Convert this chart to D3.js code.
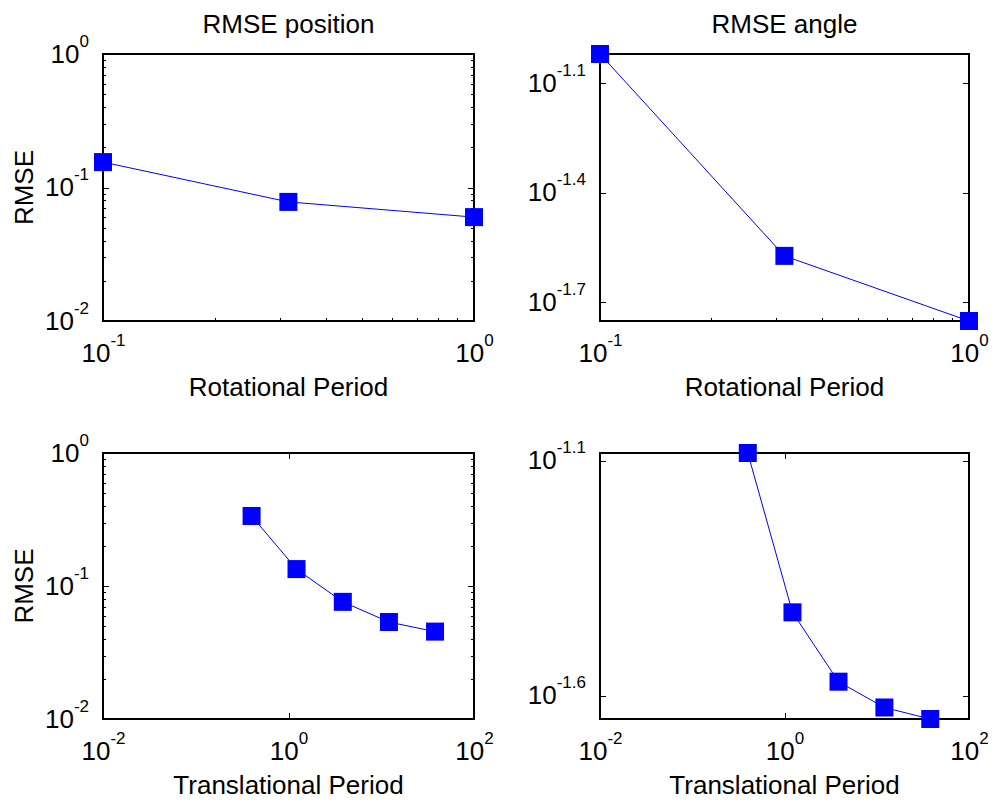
<!DOCTYPE html>
<html>
<head>
<meta charset="utf-8">
<script src="https://cdnjs.cloudflare.com/ajax/libs/d3/7.8.5/d3.min.js"></script>
<style>
  body { margin: 0; background: #fff; }
  text { font-family: "Liberation Sans", Arial, sans-serif; fill: #000; }
</style>
</head>
<body>
<div id="chart"></div>
<script>
(function () {

  // data
  var rotPeriod = [0.1, 0.316, 1]
  var rotPosRmse = [0.155, 0.078, 0.060]
  var rotAngRmse = [0.0955, 0.0267, 0.0177]

  var transPeriod = [0.4, 1.22, 3.85, 12.1, 38]
  var transPosRmse = [0.336, 0.134, 0.076, 0.0536, 0.0454]
  var transAngRmse = [0.0826, 0.0378, 0.0269, 0.0237, 0.0224]

  // tick exponents
  var rotXTicks = [-1, 0]
  var transXTicks = [-2, 0, 2]
  var posYTicks = [-2, -1, 0]
  var rotAngYTicks = [-1.7, -1.4, -1.1]
  var transAngYTicks = [-1.6, -1.1]

  var width = 992, height = 800

  var svg = d3.select("#chart").append("svg")
    .attr("width", width)
    .attr("height", height)

  var panels = [
    { left: 103, top: 54, w: 371, h: 267, x: rotPeriod, y: rotPosRmse,
      xDomain: [0.1, 1], yDomain: [0.01, 1], xTicks: rotXTicks, yTicks: posYTicks,
      xMinor: true, yMinor: true, title: "RMSE position", xLabel: "Rotational Period", yLabel: "RMSE" },
    { left: 600, top: 54, w: 369, h: 267, x: rotPeriod, y: rotAngRmse,
      xDomain: [0.1, 1], yDomain: null, xTicks: rotXTicks, yTicks: rotAngYTicks,
      xMinor: true, yMinor: false, title: "RMSE angle", xLabel: "Rotational Period", yLabel: null },
    { left: 103, top: 453, w: 371, h: 266, x: transPeriod, y: transPosRmse,
      xDomain: [0.01, 100], yDomain: [0.01, 1], xTicks: transXTicks, yTicks: posYTicks,
      xMinor: false, yMinor: true, title: null, xLabel: "Translational Period", yLabel: "RMSE" },
    { left: 600, top: 453, w: 369, h: 266, x: transPeriod, y: transAngRmse,
      xDomain: [0.01, 100], yDomain: null, xTicks: transXTicks, yTicks: transAngYTicks,
      xMinor: false, yMinor: false, title: null, xLabel: "Translational Period", yLabel: null }
  ]

  function minorTicks(domain) {
    var out = []
    var lo = Math.floor(Math.log10(domain[0])), hi = Math.ceil(Math.log10(domain[1]))
    for (var e = lo; e < hi; e++) {
      for (var k = 2; k <= 9; k++) {
        var v = k * Math.pow(10, e)
        if (v > domain[0] && v < domain[1]) out.push(v)
      }
    }
    return out
  }

  // "10" with a raised exponent
  function powLabel(sel, expOf) {
    sel.each(function (d) {
      var t = d3.select(this).text("10")
      t.append("tspan")
        .attr("dy", -16)
        .style("font-size", "17px")
        .text(expOf(d))
    })
  }

  function expText(d) {
    var e = Math.round(Math.log10(d) * 10) / 10
    return String(e)
  }

  panels.forEach(function (p) {
    var g = svg.append("g")
      .attr("transform", "translate(" + p.left + "," + p.top + ")")

    var xScale = d3.scaleLog().domain(p.xDomain).range([0, p.w])
    var yDomain = p.yDomain || d3.extent(p.y)
    var yScale = d3.scaleLog().domain(yDomain).range([p.h, 0])

    var xMajor = p.xTicks.map(function (e) { return Math.pow(10, e) })
    var yMajor = p.yTicks.map(function (e) { return Math.pow(10, e) })
    var xMin = p.xMinor ? minorTicks(p.xDomain) : []
    var yMin = p.yMinor ? minorTicks(yDomain) : []

    function axes(major, minor, axisFn, scale, tx, ty, labels) {
      var a = g.append("g")
        .attr("class", "axis")
        .attr("transform", "translate(" + tx + "," + ty + ")")
        .call(axisFn(scale).tickValues(major).tickSizeInner(-6).tickSizeOuter(0)
          .tickPadding(14).tickFormat(labels ? null : function () { return "" }))
      var m = g.append("g")
        .attr("transform", "translate(" + tx + "," + ty + ")")
        .call(axisFn(scale).tickValues(minor).tickSizeInner(-3).tickSizeOuter(0)
          .tickFormat(function () { return "" }))
      a.select(".domain").remove()
      m.select(".domain").remove()
      a.style("font-size", "26px").style("font-family", null)
      a.selectAll("line").attr("stroke", "#000").attr("shape-rendering", "crispEdges")
      m.selectAll("line").attr("stroke", "#000").attr("shape-rendering", "crispEdges")
      return a
    }

    var bottom = axes(xMajor, xMin, d3.axisBottom, xScale, 0, p.h, true)
    axes(xMajor, [], d3.axisTop, xScale, 0, 0, false)
    var left = axes(yMajor, yMin, d3.axisLeft, yScale, 0, 0, true)
    axes(yMajor, yMin, d3.axisRight, yScale, p.w, 0, false)

    bottom.selectAll(".tick text")
      .attr("y", 41)
      .attr("dy", null)
      .call(powLabel, expText)

    left.selectAll(".tick text")
      .attr("x", -14)
      .attr("dy", null)
      .attr("y", 8)
      .call(powLabel, expText)

    // box
    g.append("rect")
      .attr("width", p.w)
      .attr("height", p.h)
      .attr("fill", "none")
      .attr("stroke", "#000")
      .attr("stroke-width", 1.5)
      .attr("shape-rendering", "crispEdges")

    var pts = p.x.map(function (v, i) { return [v, p.y[i]] })

    var line = d3.line()
      .x(function (d) { return xScale(d[0]) })
      .y(function (d) { return yScale(d[1]) })

    g.append("path")
      .datum(pts)
      .attr("d", line)
      .attr("fill", "none")
      .attr("stroke", "#0000ff")
      .attr("stroke-width", 1)

    g.selectAll(".marker")
      .data(pts)
      .enter().append("rect")
      .attr("class", "marker")
      .attr("x", function (d) { return xScale(d[0]) - 9 })
      .attr("y", function (d) { return yScale(d[1]) - 9 })
      .attr("width", 18)
      .attr("height", 18)
      .attr("fill", "#0000ff")

    if (p.title) {
      g.append("text")
        .attr("x", p.w / 2)
        .attr("y", -21)
        .attr("text-anchor", "middle")
        .style("font-size", "26px")
        .text(p.title)
    }

    g.append("text")
      .attr("x", p.w / 2)
      .attr("y", p.h + 75)
      .attr("text-anchor", "middle")
      .style("font-size", "26px")
      .text(p.xLabel)

    if (p.yLabel) {
      g.append("text")
        .attr("transform", "translate(" + (33 - p.left) + "," + (p.h / 2) + ") rotate(-90)")
        .attr("text-anchor", "middle")
        .style("font-size", "26px")
        .text(p.yLabel)
    }
  })

})()
</script>
</body>
</html>
